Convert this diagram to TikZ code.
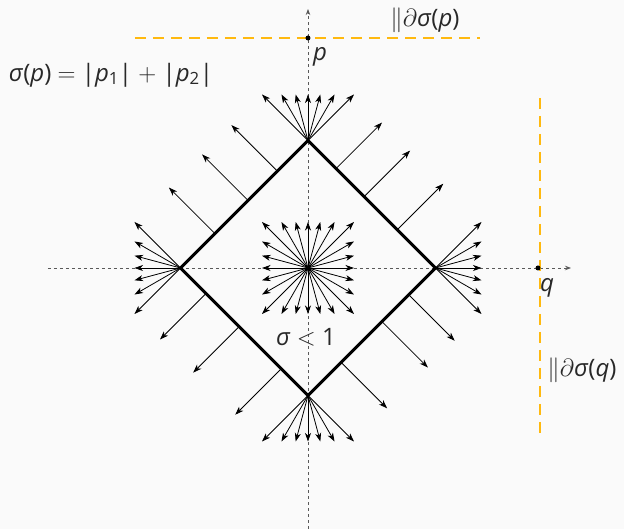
\documentclass[tikz,border=0pt]{standalone}
\usepackage{fontspec}
\setmainfont{Open Sans}
\usetikzlibrary{arrows.meta,calc}
\definecolor{bg}{RGB}{250,250,250}
\definecolor{amber}{RGB}{255,185,15}
\definecolor{txt}{RGB}{40,40,40}
\begin{document}
\begin{tikzpicture}[x=1pt,y=1pt,
  vec/.style={-{Stealth[length=8.5pt,width=6pt,inset=2.5pt]}, line width=0.8pt, black},
  axis/.style={dash pattern=on 3pt off 3pt, black!65, line width=0.9pt, -{Stealth[length=6pt,width=4.5pt]}},
  hyper/.style={amber, line width=2.8pt, dash pattern=on 11pt off 7pt},
  lbl/.style={font=\fontsize{24}{28}\selectfont, text=txt, inner sep=0pt},
  pt/.style={circle, fill=black, inner sep=0pt, minimum size=5pt}]
\fill[bg] (-308,-261) rectangle (316,268);
\useasboundingbox (-308,-261) rectangle (316,268);
% axes
\coordinate (xl) at (-260,0);
\coordinate (xr) at (263,0);
\coordinate (yb) at (0,-261);
\coordinate (yt) at (0,259);
\draw[axis] (xl) -- (xr);
\draw[axis] (yb) -- (yt);
% supporting lines
\coordinate (h1) at (-173,230);
\coordinate (h2) at (172,230);
\coordinate (v1) at (232,170);
\coordinate (v2) at (232,-172);
\draw[hyper] (h1) -- (h2);
\draw[hyper] (v1) -- (v2);
% diamond
\coordinate (O) at (0,0);
\coordinate (T) at (0,127.5);
\coordinate (R) at (127.5,0);
\coordinate (B) at (0,-127.5);
\coordinate (L) at (-127.5,0);
\draw[line width=3pt, line join=miter] (T) -- (R) -- (B) -- (L) -- cycle;
% fans
\foreach \v/\a/\b in {T/45/135, R/-45/45, B/225/315, L/135/225, O/0/345}{
  \pgfmathsetmacro\st{\a+15}
  \foreach \t in {\a,\st,...,\b}{
    \pgfmathsetmacro\m{max(abs(cos(\t)),abs(sin(\t)))}
    \draw[vec] (\v) -- ++({46*cos(\t)/\m},{46*sin(\t)/\m});
  }
}
% edge normals
\foreach \f in {0.27,0.53,0.76}{\draw[vec] ($(L)!\f!(T)$) -- ++(-46,46);}
\foreach \f in {0.22,0.44,0.70}{\draw[vec] ($(T)!\f!(R)$) -- ++(46,46);}
\foreach \f in {0.20,0.46,0.79}{\draw[vec] ($(L)!\f!(B)$) -- ++(-46,-46);}
\foreach \f in {0.26,0.58,0.79}{\draw[vec] ($(B)!\f!(R)$) -- ++(46,46*-1);}
% points
\node[pt] (p) at (0,230) {};
\node[pt] (q) at (230,0) {};
% labels
\node[lbl] (lp) at (12,211) {\textit{p}};
\node[lbl] (lq) at (239,-20) {\textit{q}};
\node[lbl] (np) at (117,248) {$\|\partial$\textit{σ}(\textit{p})};
\node[lbl] (nq) at (274,-102) {$\|\partial$\textit{σ}(\textit{q})};
\node[lbl] (f) at (-197,193) {\textit{σ}(\textit{p}) $=$ |\textit{p}\textsubscript{1}| $+$ |\textit{p}\textsubscript{2}|};
\node[lbl] (s) at (-2,-69) {\textit{σ} $<$ 1};
\end{tikzpicture}
\end{document}
